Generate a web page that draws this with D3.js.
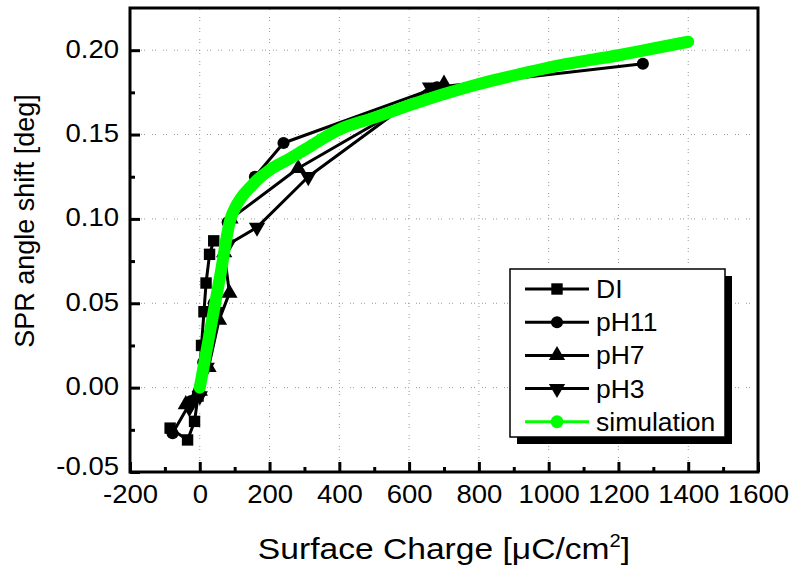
<!DOCTYPE html>
<html>
<head>
<meta charset="utf-8">
<script src="https://cdn.jsdelivr.net/npm/d3@7"></script>
<style>
  body { margin: 0; background: #fff; }
  text { font-family: "Liberation Sans", Arial, sans-serif; fill: #000; }
</style>
</head>
<body>
<script>
const width = 792;
const height = 573;

const margin = { top: 8, left: 130, bottom: 101, right: 34 };

// series values: [surface charge, angle shift]
const di = [[-85, -0.024], [-35, -0.031], [-15, -0.020], [-5, -0.005], [5, 0.025],
  [12, 0.045], [18, 0.062], [28, 0.079], [40, 0.087]];
const ph11 = [[-78, -0.027], [-25, -0.008], [10, 0.015], [40, 0.050], [80, 0.098],
  [158, 0.125], [240, 0.145], [680, 0.178], [1270, 0.192]];
const ph7 = [[-40, -0.010], [0, -0.002], [25, 0.012], [55, 0.040], [85, 0.056],
  [70, 0.080], [88, 0.100], [282, 0.130], [700, 0.180]];
const ph3 = [[-30, -0.012], [0, -0.005], [20, 0.012], [50, 0.045], [82, 0.085],
  [164, 0.095], [311, 0.125], [660, 0.178]];
const simulation = [[0, 0], [30, 0.034], [60, 0.068], [88, 0.100],
  [100, 0.106], [150, 0.120], [200, 0.129], [260, 0.136], [300, 0.141], [400, 0.153],
  [500, 0.160], [575, 0.1655], [700, 0.174], [800, 0.180], [900, 0.185], [1030, 0.191],
  [1200, 0.197], [1300, 0.201], [1400, 0.205]];

const xTicks = [-200, 0, 200, 400, 600, 800, 1000, 1200, 1400, 1600];
const xMinor = [-100, 100, 300, 500, 700, 900, 1100, 1300, 1500];
const yTicks = [-0.05, 0.00, 0.05, 0.10, 0.15, 0.20];
const yMinor = [-0.025, 0.025, 0.075, 0.125, 0.175];

const seriesNames = ["DI", "pH11", "pH7", "pH3", "simulation"];

const x = d3.scaleLinear().domain([-200, 1600]).range([margin.left, width - margin.right]);
const y = d3.scaleLinear().domain([-0.05, 0.225]).range([height - margin.bottom, margin.top]);

// plain hyphen for negatives, like the original
const fmtX = (d) => d3.format("d")(d).replace("\u2212", "-");
const fmtY = (d) => d3.format(".2f")(d).replace("\u2212", "-");

const svg = d3.select("body").append("svg")
  .attr("width", width)
  .attr("height", height);

// dotted grid
const grid = svg.append("g");
grid.selectAll(".gx")
  .data(xTicks.slice(1, -1))
  .enter().append("line")
  .attr("x1", (d) => x(d)).attr("x2", (d) => x(d))
  .attr("y1", y.range()[0]).attr("y2", y.range()[1])
  .style("stroke", "#999").style("stroke-width", 1)
  .style("stroke-dasharray", "1,2,1,7");
grid.selectAll(".gy")
  .data(yTicks.slice(1))
  .enter().append("line")
  .attr("y1", (d) => y(d)).attr("y2", (d) => y(d))
  .attr("x1", x.range()[0]).attr("x2", x.range()[1])
  .style("stroke", "#999").style("stroke-width", 1)
  .style("stroke-dasharray", "1,2,1,7");

// axes (ticks pointing inward)
const xAxis = svg.append("g")
  .attr("transform", `translate(0,${y.range()[0]})`)
  .call(d3.axisBottom(x).tickValues(xTicks).tickSize(-10).tickPadding(13).tickFormat(fmtX));
const xAxisMinor = svg.append("g")
  .attr("transform", `translate(0,${y.range()[0]})`)
  .call(d3.axisBottom(x).tickValues(xMinor).tickSize(-5).tickFormat(""));
const yAxis = svg.append("g")
  .attr("transform", `translate(${x.range()[0]},0)`)
  .call(d3.axisLeft(y).tickValues(yTicks).tickSize(-10).tickPadding(11).tickFormat(fmtY));
const yAxisMinor = svg.append("g")
  .attr("transform", `translate(${x.range()[0]},0)`)
  .call(d3.axisLeft(y).tickValues(yMinor).tickSize(-5).tickFormat(""));

[xAxis, xAxisMinor, yAxis, yAxisMinor].forEach((a) => {
  a.select(".domain").remove();
  a.selectAll("line").style("stroke", "#000").style("stroke-width", 3);
});

xAxis.selectAll("text")
  .style("font-size", "25px")
  .attr("transform", "scale(1.1,1)");
yAxis.selectAll("text")
  .style("font-size", "25px")
  .attr("x", -11 / 1.1)
  .attr("transform", (d) => `translate(0,${d < 0 ? -6 : -1}) scale(1.1,1)`);

// frame
svg.append("rect")
  .attr("x", x.range()[0]).attr("y", y.range()[1])
  .attr("width", x.range()[1] - x.range()[0])
  .attr("height", y.range()[0] - y.range()[1])
  .style("fill", "none").style("stroke", "#000").style("stroke-width", 3);

// data
const line = d3.line().x((d) => x(d[0])).y((d) => y(d[1]));

const blackSeries = [
  { name: "DI", data: di, symbol: d3.symbolSquare, size: 130, rotate: 0 },
  { name: "pH11", data: ph11, symbol: d3.symbolCircle, size: 115, rotate: 0 },
  { name: "pH7", data: ph7, symbol: d3.symbolTriangle, size: 115, rotate: 0 },
  { name: "pH3", data: ph3, symbol: d3.symbolTriangle, size: 115, rotate: 180 }
];

blackSeries.forEach((s) => {
  svg.append("path")
    .attr("d", line(s.data))
    .style("fill", "none").style("stroke", "#000")
    .style("stroke-width", 3).style("stroke-linejoin", "round");
  svg.selectAll(null)
    .data(s.data)
    .enter().append("path")
    .attr("d", d3.symbol().type(s.symbol).size(s.size))
    .attr("transform", (d) => `translate(${x(d[0])},${y(d[1])}) rotate(${s.rotate})`)
    .style("fill", "#000");
});

svg.append("path")
  .attr("d", line.curve(d3.curveMonotoneX)(simulation))
  .style("fill", "none").style("stroke", "#00ff00")
  .style("stroke-width", 12).style("stroke-linecap", "round").style("stroke-linejoin", "round");

// axis titles
svg.append("text")
  .attr("transform", `translate(34,221) rotate(-90)`)
  .attr("text-anchor", "middle")
  .style("font-size", "27px")
  .text("SPR angle shift [deg]");

const xt = svg.append("text")
  .attr("transform", "translate(444,559) scale(1.12,1)")
  .attr("text-anchor", "middle")
  .style("font-size", "30px");
xt.append("tspan").text("Surface Charge [μC/cm");
xt.append("tspan").attr("dy", -12).style("font-size", "18px").text("2");
xt.append("tspan").attr("dy", 12).text("]");

// legend
const legend = svg.append("g").attr("transform", "translate(510,269)");
legend.append("rect")
  .attr("x", 7).attr("y", 7).attr("width", 215).attr("height", 168)
  .style("fill", "#000");
legend.append("rect")
  .attr("width", 215).attr("height", 168)
  .style("fill", "#fff").style("stroke", "#000").style("stroke-width", 1.5);

const legendRows = blackSeries.concat([{ name: "simulation", symbol: d3.symbolCircle, size: 130, rotate: 0 }]);
legendRows.forEach((s, i) => {
  const row = legend.append("g").attr("transform", `translate(0,${20 + i * 33.2})`);
  const c = s.name === "simulation" ? "#00ff00" : "#000";
  row.append("line")
    .attr("x1", 15).attr("x2", 79)
    .style("stroke", c).style("stroke-width", 3);
  row.append("path")
    .attr("d", d3.symbol().type(s.symbol).size(s.size))
    .attr("transform", `translate(47,0) rotate(${s.rotate})`)
    .style("fill", c);
  row.append("text")
    .attr("transform", "translate(86,9) scale(1.06,1)")
    .style("font-size", "25px")
    .text(seriesNames[i]);
});
</script>
</body>
</html>
